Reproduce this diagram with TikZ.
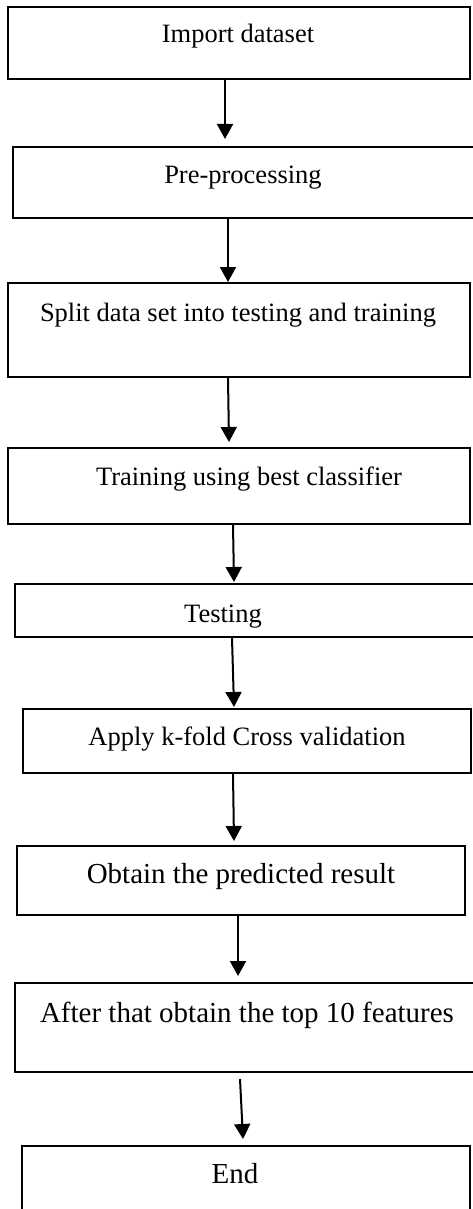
\documentclass[tikz,border=0pt]{standalone}
\usepackage{fontspec}
\setmainfont{Liberation Serif}
\usetikzlibrary{arrows.meta}

\tikzset{
  stepbox/.style={draw=black, line width=2pt, fill=none, inner sep=0pt},
  steptext/.style={anchor=base, inner sep=0pt, font=\fontsize{26.5}{30}\selectfont},
  bigtext/.style={anchor=base, inner sep=0pt, font=\fontsize{29}{33}\selectfont},
  flow/.style={draw=black, line width=2pt, -{Triangle[length=15pt,width=16pt]}},
}

% box: corners (x1,y1) to (x2,y2) in the downward-y frame
\newcommand{\flowbox}[5]{%
  \node[stepbox, minimum width={#4-#2}, minimum height={#5-#3}]
    (#1) at ({(#2+#4)/2},{(#3+#5)/2}) {};}

\begin{document}
\begin{tikzpicture}[x=1pt,y=-1pt]
  \useasboundingbox (0,0) rectangle (472,1209);

  % process boxes
  \flowbox{b1}{8}{7}{470}{79}
  \flowbox{b2}{13}{147}{478}{218}
  \flowbox{b3}{8}{283}{470}{377}
  \flowbox{b4}{8}{448}{470}{524}
  \flowbox{b5}{15}{584}{478}{637}
  \flowbox{b6}{23}{709}{471}{773}
  \flowbox{b7}{17}{846}{465}{915}
  \flowbox{b8}{15}{983}{478}{1072}
  \flowbox{b9}{22}{1146}{470}{1218}

  % step labels
  \node[steptext] (t1) at (238,43)   {Import dataset};
  \node[steptext] (t2) at (243,183)  {Pre-processing};
  \node[steptext] (t3) at (238,321)  {Split data set into testing and training};
  \node[steptext] (t4) at (249,485)  {Training using best classifier};
  \node[steptext] (t5) at (223,622)  {Testing};
  \node[steptext] (t6) at (247,745)  {Apply k-fold Cross validation};
  \node[bigtext]  (t7) at (241,883)  {Obtain the predicted result};
  \node[bigtext]  (t8) at (247,1022) {After that obtain the top 10 features};
  \node[bigtext]  (t9) at (235,1183) {End};

  % connectors
  \draw[flow] ([xshift=-14pt]b1.south) -- ([xshift=-20.5pt,yshift=7pt]b2.north);
  \draw[flow] ([xshift=-17.5pt]b2.south) -- ([xshift=-11pt]b3.north);
  \draw[flow] ([xshift=-11pt]b3.south) -- ([xshift=-10pt,yshift=5pt]b4.north);
  \draw[flow] ([xshift=-6pt]b4.south) -- ([xshift=-12.5pt,yshift=1pt]b5.north);
  \draw[flow] ([xshift=-14.5pt]b5.south) -- ([xshift=-13pt,yshift=1pt]b6.north);
  \draw[flow] ([xshift=-14pt]b6.south) -- ([xshift=-7pt,yshift=4pt]b7.north);
  \draw[flow] ([xshift=-3pt]b7.south) -- ([xshift=-8.5pt,yshift=6pt]b8.north);
  \draw[flow] ([xshift=-6.5pt,yshift=-6pt]b8.south) -- ([xshift=-3pt,yshift=6pt]b9.north);
\end{tikzpicture}
\end{document}
